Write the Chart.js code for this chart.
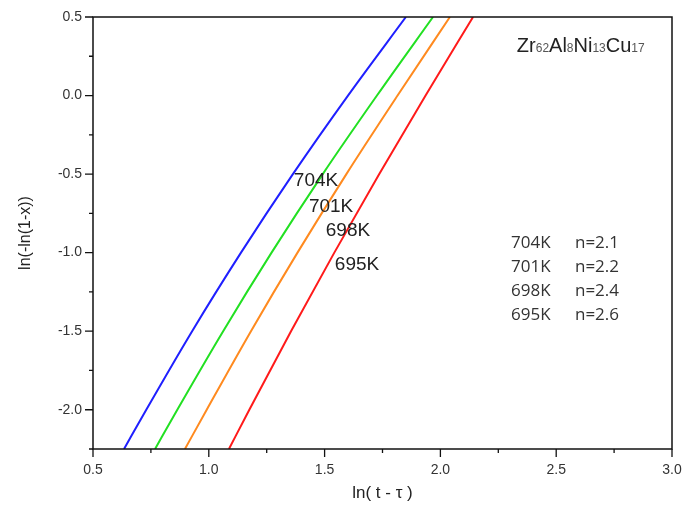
<!DOCTYPE html>
<html lang="en">
<head>
    <meta charset="utf-8">
    <title>JMAK plot</title>
    <script src="https://cdn.jsdelivr.net/npm/chart.js"></script>
    <style>
        html, body { margin: 0; padding: 0; background: #fff; }
        #wrap { width: 696px; height: 510px; }
    </style>
</head>
<body>
    <div id="wrap"><canvas id="avramiChart" width="696" height="510"></canvas></div>

    <script>
        // values: ln(-ln(1-x)) levels and ln(t - tau) for each temperature
        var yLevels = [-2.25, -2.0, -1.5, -1.0, -0.5, 0.0, 0.5];
        var x704 = [0.634, 0.730, 0.928, 1.139, 1.363, 1.601, 1.851];
        var x701 = [0.768, 0.864, 1.062, 1.271, 1.492, 1.726, 1.968];
        var x698 = [0.897, 0.991, 1.182, 1.383, 1.594, 1.815, 2.041];
        var x695 = [1.087, 1.175, 1.355, 1.542, 1.736, 1.936, 2.141];

        var seriesNames = ['704K', '701K', '698K', '695K'];
        var avramiN = ['n=2.1', 'n=2.2', 'n=2.4', 'n=2.6'];
        var lineColors = ['#1f1fff', '#22e022', '#ff8a1f', '#ff1a1a'];

        var xTicks = { min: 0.5, max: 3.0, step: 0.25 };
        var yTicks = { min: -2.25, max: 0.5, step: 0.25 };

        // curve labels (data coords of label centres)
        var curveLabelX = [1.463, 1.528, 1.601, 1.64];
        var curveLabelY = [-0.545, -0.71, -0.863, -1.08];

        function toPoints(xs) {
            return xs.map(function (x, i) { return { x: x, y: yLevels[i] }; });
        }

        function isMajor(v) {
            return Math.abs(v * 2 - Math.round(v * 2)) < 1e-6;
        }

        var allX = [x704, x701, x698, x695];
        var datasets = allX.map(function (xs, i) {
            return {
                label: seriesNames[i],
                data: toPoints(xs),
                showLine: true,
                borderColor: lineColors[i],
                backgroundColor: lineColors[i],
                borderWidth: 2,
                pointRadius: 0,
                cubicInterpolationMode: 'monotone'
            };
        });

        var framePlugin = {
            id: 'frameAndText',
            afterDraw: function (chart) {
                var ctx = chart.ctx;
                var a = chart.chartArea;
                var xs = chart.scales.x, ys = chart.scales.y;
                ctx.save();

                // frame
                ctx.strokeStyle = '#111';
                ctx.lineWidth = 1.5;
                ctx.strokeRect(a.left, a.top, a.right - a.left, a.bottom - a.top);

                // ticks, outward on left and bottom
                ctx.lineWidth = 1.3;
                ctx.beginPath();
                xs.ticks.forEach(function (t) {
                    var p = xs.getPixelForValue(t.value);
                    var len = isMajor(t.value) ? 8 : 4;
                    ctx.moveTo(p, a.bottom);
                    ctx.lineTo(p, a.bottom + len);
                });
                ys.ticks.forEach(function (t) {
                    var p = ys.getPixelForValue(t.value);
                    var len = isMajor(t.value) ? 8 : 4;
                    ctx.moveTo(a.left, p);
                    ctx.lineTo(a.left - len, p);
                });
                ctx.stroke();

                // curve labels
                ctx.fillStyle = '#222';
                ctx.font = '19px "Liberation Sans", Arial, sans-serif';
                ctx.textAlign = 'center';
                ctx.textBaseline = 'middle';
                seriesNames.forEach(function (name, i) {
                    ctx.fillText(name, xs.getPixelForValue(curveLabelX[i]), ys.getPixelForValue(curveLabelY[i]));
                });

                // n values block
                ctx.fillStyle = '#333';
                ctx.font = '17px "Open Sans", sans-serif';
                ctx.textAlign = 'left';
                var rowY0 = ys.getPixelForValue(-0.94);
                var c1 = xs.getPixelForValue(2.305), c2 = xs.getPixelForValue(2.581);
                seriesNames.forEach(function (name, i) {
                    ctx.fillText(name, c1, rowY0 + i * 24);
                    ctx.fillText(avramiN[i], c2, rowY0 + i * 24);
                });

                // alloy formula with subscripts
                var parts = [['Zr', false], ['62', true], ['Al', false], ['8', true], ['Ni', false], ['13', true], ['Cu', false], ['17', true]];
                var fx = xs.getPixelForValue(2.33);
                var fy = ys.getPixelForValue(0.277);
                ctx.textBaseline = 'alphabetic';
                parts.forEach(function (p) {
                    if (p[1]) {
                        ctx.font = '12px "Liberation Sans", Arial, sans-serif';
                        ctx.fillStyle = '#555';
                        ctx.fillText(p[0], fx, fy);
                    } else {
                        ctx.font = '20px "Liberation Sans", Arial, sans-serif';
                        ctx.fillStyle = '#222';
                        ctx.fillText(p[0], fx, fy);
                    }
                    fx += ctx.measureText(p[0]).width;
                });

                ctx.restore();
            }
        };

        var ctx1 = document.getElementById('avramiChart').getContext('2d');
        var avramiChart = new Chart(ctx1, {
            type: 'scatter',
            data: { datasets: datasets },
            options: {
                responsive: false,
                animation: false,
                events: [],
                layout: { padding: { left: 16, right: 24, top: 17, bottom: 0 } },
                plugins: {
                    legend: { display: false },
                    tooltip: { enabled: false }
                },
                scales: {
                    x: {
                        type: 'linear',
                        min: xTicks.min,
                        max: xTicks.max,
                        afterFit: function (s) { s.height = 61; },
                        grid: { display: false, drawTicks: true, tickLength: 8 },
                        border: { display: false },
                        ticks: {
                            stepSize: xTicks.step,
                            autoSkip: false,
                            maxRotation: 0,
                            padding: 5,
                            color: '#333',
                            font: { family: '"Liberation Sans", Arial, sans-serif', size: 14 },
                            callback: function (v) { return isMajor(v) ? v.toFixed(1) : ''; }
                        },
                        title: {
                            display: true,
                            text: 'ln( t - \u03c4 )',
                            color: '#222',
                            padding: { top: 0, bottom: 6 },
                            font: { family: '"Liberation Sans", Arial, sans-serif', size: 17 }
                        }
                    },
                    y: {
                        type: 'linear',
                        min: yTicks.min,
                        max: yTicks.max,
                        afterFit: function (s) { s.width = 77; },
                        grid: { display: false, drawTicks: true, tickLength: 8 },
                        border: { display: false },
                        ticks: {
                            stepSize: yTicks.step,
                            autoSkip: false,
                            padding: 3,
                            color: '#333',
                            font: { family: '"Liberation Sans", Arial, sans-serif', size: 14 },
                            callback: function (v) { return isMajor(v) ? v.toFixed(1) : ''; }
                        },
                        title: {
                            display: true,
                            text: 'ln(-ln(1-x))',
                            color: '#222',
                            padding: 0,
                            font: { family: '"Liberation Sans", Arial, sans-serif', size: 16 }
                        }
                    }
                }
            },
            plugins: [framePlugin]
        });
    </script>
</body>
</html>
